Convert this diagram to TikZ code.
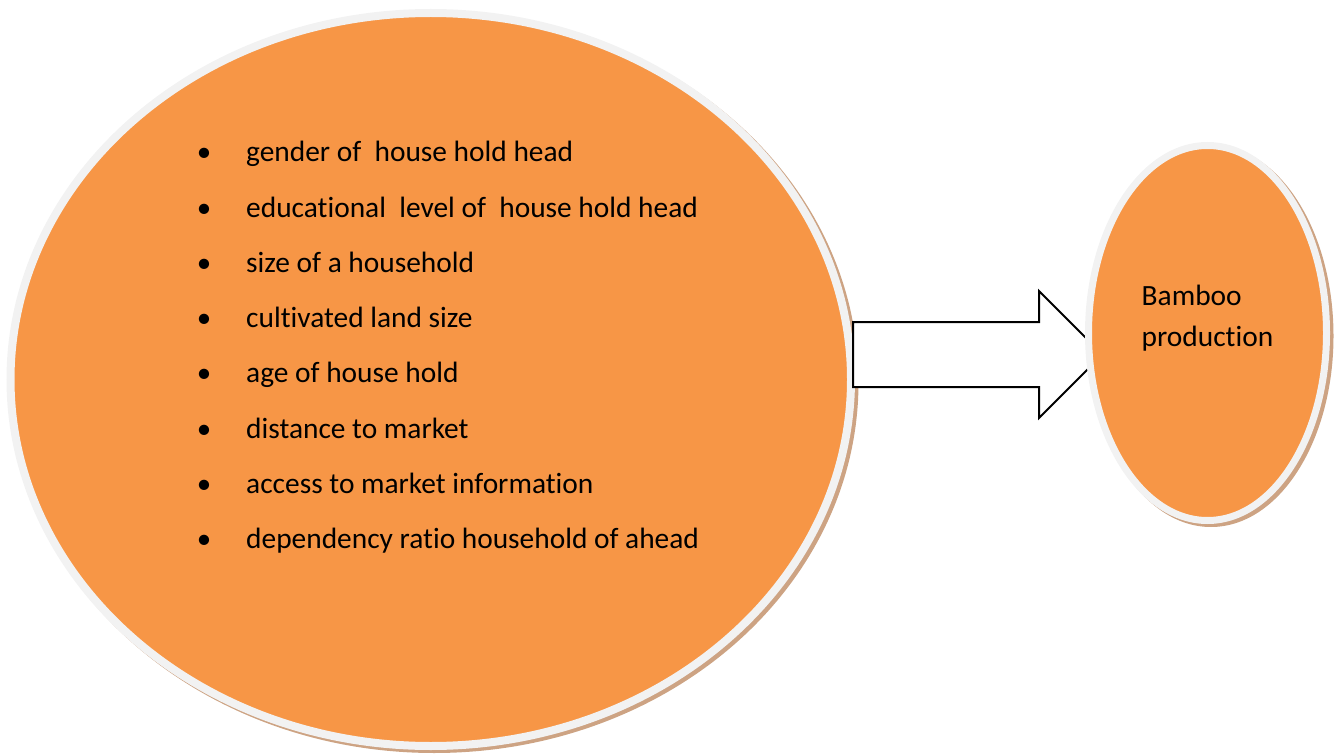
\documentclass[tikz,border=0pt]{standalone}
\usepackage{fontspec}
\setmainfont{Carlito}[Ligatures=NoCommon]
\usetikzlibrary{shapes.geometric, shapes.arrows, shadows, positioning}
\definecolor{bbOrange}{HTML}{F79646}
\definecolor{bbRing}{HTML}{F2F2F2}
\definecolor{bbShadow}{HTML}{CDA383}

\begin{document}
\begin{tikzpicture}[
  x=1pt, y=-1pt,
  oval/.style={ellipse, fill=bbOrange, draw=bbRing, inner sep=0pt, outer sep=0pt,
               drop shadow={shadow xshift=3.5pt, shadow yshift=-3pt, fill=bbShadow,
                            draw=bbShadow, opacity=1}},
  item/.style={anchor=base west, inner sep=0pt, font=\fontsize{29.4}{41}\selectfont},
  dot/.style={anchor=base, inner sep=0pt, font=\fontsize{29}{35}\selectfont},
  blockarrow/.style={single arrow, draw=black, fill=white, line width=2pt,
                     single arrow head extend=31pt, single arrow head indent=0pt,
                     inner xsep=0pt, inner ysep=0pt, outer sep=0pt,
                     text height=63pt, text depth=0pt}
]
\useasboundingbox (0,0) rectangle (1341,754);

% factors
\node[oval, line width=8pt, minimum width=840.5pt, minimum height=733pt] (factors) at (430.75,379.5) {};

\node[blockarrow, anchor=tail, minimum height=249.5pt] (link) at (853,354.5) {};

% outcome
\node[oval, line width=7pt, minimum width=238pt, minimum height=375pt] (outcome) at (1207.5,333) {};

\foreach \txt [count=\i from 0] in {gender of~ house hold head,
    educational~ level of~ house hold head,
    size of a household,
    cultivated land size,
    age of house hold,
    distance to market,
    access to market information,
    dependency ratio household of ahead}
{
  \node[dot] (dot\i) at (204,162+55.2*\i) {•};
  \node[item] (factor\i) at (246,162+55.2*\i) {\txt};
}

\node[item, align=left] (outlbl) at (1141.5,346) {Bamboo\\production};
\end{tikzpicture}
\end{document}
